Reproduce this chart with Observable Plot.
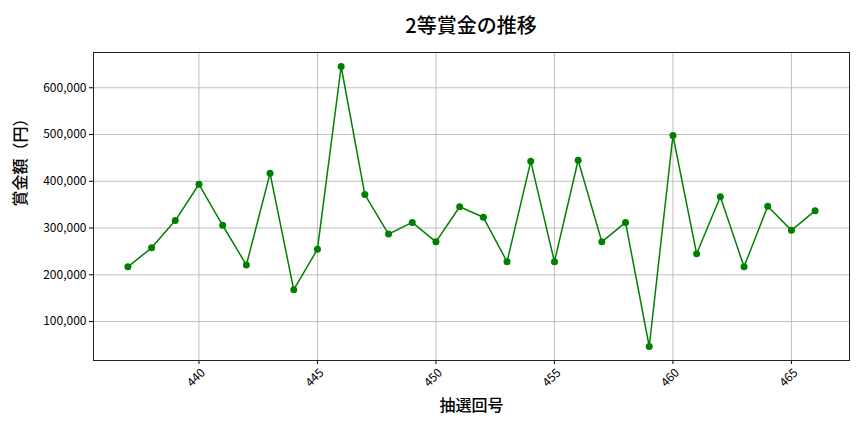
<!DOCTYPE html>
<html>
<head>
<meta charset="utf-8">
<script src="https://cdn.jsdelivr.net/npm/d3@7"></script>
<script src="https://cdn.jsdelivr.net/npm/@observablehq/plot@0.6"></script>
<style>
  body { margin: 0; background: #fff; font-family: "Noto Sans CJK JP", "Noto Sans", sans-serif; }
  #title { height: 40px; line-height: 50px; font-size: 20px; font-weight: 500; text-align: center; padding-left: 78px; width: 786px; color: #000; }
</style>
</head>
<body>
<div id="title">2等賞金の推移</div>
<div id="chart"></div>
<script>
const draws = [437,438,439,440,441,442,443,444,445,446,447,448,449,450,451,452,453,454,455,456,457,458,459,460,461,462,463,464,465,466];
const prizes = [217000,257700,316000,393600,305800,221000,417000,168000,254700,645500,371600,287000,312000,270500,345500,323000,227800,442700,227800,444900,270500,312000,46600,497900,244900,367000,217000,346600,295000,337200];
const xTicks = [440,445,450,455,460,465];
const yTicks = [100000,200000,300000,400000,500000,600000];
const titleText = "2等賞金の推移";
const xLabel = "抽選回号";
const yLabel = "賞金額（円）";

const data = draws.map((d, i) => ({draw: d, prize: prizes[i]}));
const pad = (ext) => { const r = ext[1] - ext[0]; return [ext[0] - r * 0.05, ext[1] + r * 0.05]; };
const xDom = pad(d3.extent(draws));
const yDom = pad(d3.extent(prizes));
const font = "Noto Sans CJK JP";

const chart = Plot.plot({
  width: 864,
  height: 392,
  marginLeft: 93,
  marginRight: 15,
  marginTop: 12,
  marginBottom: 72,
  style: {fontFamily: font, fontSize: "12px", color: "#000", background: "#fff"},
  x: {domain: xDom},
  y: {domain: yDom},
  marks: [
    Plot.gridX(xTicks, {stroke: "#b0b0b0", strokeOpacity: 1, strokeWidth: 0.8}),
    Plot.gridY(yTicks, {stroke: "#b0b0b0", strokeOpacity: 1, strokeWidth: 0.8}),
    Plot.axisY({ticks: yTicks, tickSize: 4, tickPadding: 3, tickFormat: d3.format(","), label: null, fontSize: 12}),
    Plot.axisX({ticks: xTicks, tickSize: 4, tickFormat: () => "", label: null}),
    Plot.text(xTicks, {x: d => d, frameAnchor: "bottom", dy: 20, rotate: -45, textAnchor: "middle", text: d => String(d), fontSize: 12}),
    Plot.text([xLabel], {frameAnchor: "bottom", dy: 50, fontSize: 16, fontWeight: 500}),
    Plot.text([yLabel], {frameAnchor: "left", dx: -73, rotate: -90, fontSize: 16, fontWeight: 500}),
    Plot.line(data, {x: "draw", y: "prize", stroke: "#008000", strokeWidth: 1.5}),
    Plot.dot(data, {x: "draw", y: "prize", fill: "#008000", r: 3.5}),
    Plot.frame({stroke: "#222", strokeWidth: 1})
  ]
});
document.getElementById("chart").appendChild(chart);
</script>
</body>
</html>
